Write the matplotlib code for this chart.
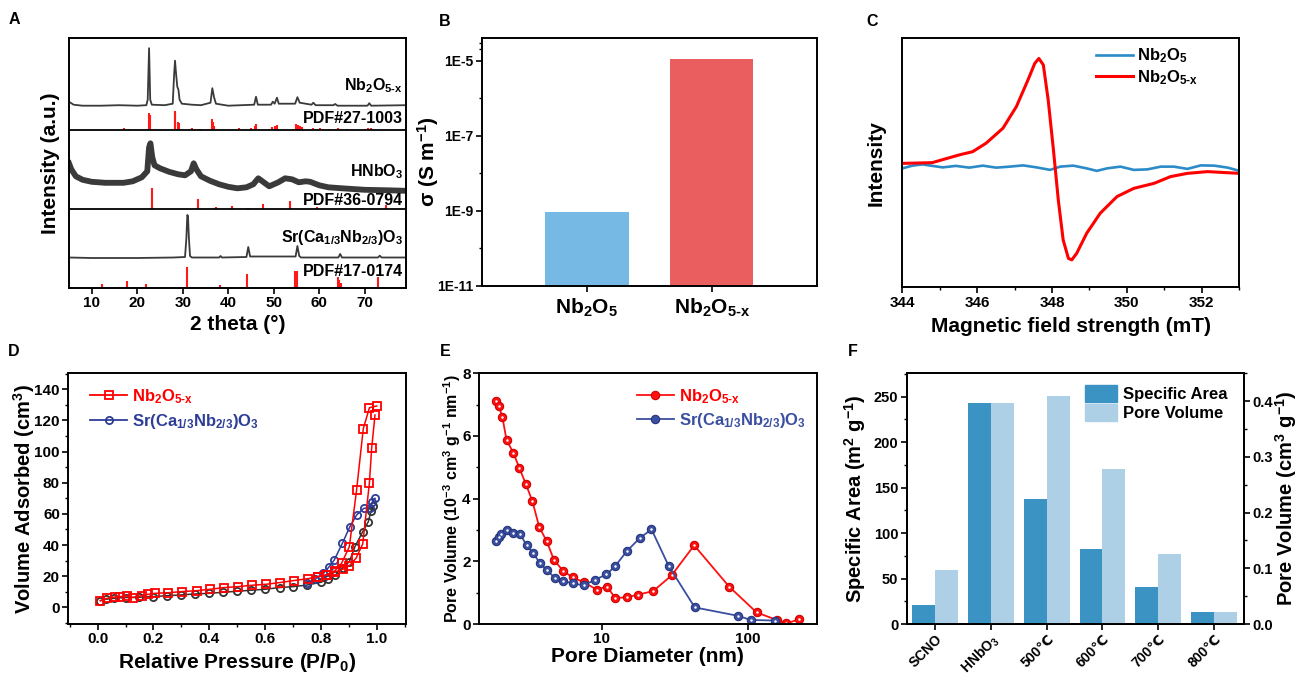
import numpy as np
import matplotlib
matplotlib.use("Agg")
import matplotlib.pyplot as plt
from matplotlib.ticker import MultipleLocator, FixedLocator, NullLocator
from matplotlib.patches import Patch
from matplotlib.lines import Line2D

plt.rcParams['font.family'] = ['Liberation Sans', 'DejaVu Sans']
plt.rcParams['font.weight'] = 'bold'
plt.rcParams['axes.labelweight'] = 'bold'
plt.rcParams['mathtext.fontset'] = 'custom'
plt.rcParams['mathtext.rm'] = 'Liberation Sans:bold'
plt.rcParams['mathtext.bf'] = 'Liberation Sans:bold'
plt.rcParams['mathtext.it'] = 'Liberation Sans:bold'
plt.rcParams['mathtext.default'] = 'bf'
plt.rcParams['axes.linewidth'] = 1.4
plt.rcParams['xtick.major.width'] = 1.2
plt.rcParams['ytick.major.width'] = 1.2
plt.rcParams['xtick.minor.width'] = 1.0
plt.rcParams['ytick.minor.width'] = 1.0
plt.rcParams['xtick.major.size'] = 4
plt.rcParams['ytick.major.size'] = 4
plt.rcParams['xtick.minor.size'] = 2.5
plt.rcParams['ytick.minor.size'] = 2.5

NB = "Nb$_2$O$_5$"
NBX = "Nb$_2$O$_{5\\text{-}x}$"
SCNO = "Sr(Ca$_{1/3}$Nb$_{2/3}$)O$_3$"

# ---------------- A: XRD ----------------
nbx_tt = [5, 6, 8, 12, 16, 20, 22.0, 22.3, 22.6, 22.85, 23.2, 26, 27.8, 28.1, 28.3, 28.55, 28.8,
          29.05, 29.3, 29.8, 32, 34, 36.1, 36.5, 36.9, 37.3, 40, 45.7, 46.1, 46.5, 49.4, 49.8, 50.2,
          50.7, 51.1, 54.7, 55.2, 55.7, 58.3, 58.7, 59.2, 63.1, 63.5, 64, 70.6, 71, 71.4, 79]
nbx_I = [28, 25, 24, 24, 24.5, 24, 24.5, 30, 81.5, 30, 25, 24.5, 26, 55, 69, 55, 43,
         40, 30, 26, 25, 24.5, 27, 41.5, 32, 26, 24, 25, 33, 25, 25, 28, 26,
         32, 26, 26, 32.5, 27, 25, 27, 24.5, 24.5, 25.7, 24, 24, 26.5, 24, 24.5]
pdf27_pos = [17, 18.1, 22.6, 22.75, 28.2, 28.4, 29.0, 29.2, 32.1, 33.7, 36.4, 36.6, 36.9, 42.4,
             44.9, 45.8, 46.2, 49.7, 50.3, 50.8, 55.0, 55.3, 55.7, 56.1, 58.6, 60.1, 62.2, 64.2,
             66.1, 70.8, 71.3]
pdf27_h = [1.3, 1, 17, 15, 19, 17, 8, 7, 1.3, 1, 10.5, 8, 4, 1.5,
           1.5, 4, 6, 3, 3.5, 5, 5.5, 5, 3.5, 2.5, 2, 1.5, 1, 2,
           1, 2, 1.5]

hnb_tt = [5, 5.5, 6.5, 8, 10, 13, 17, 19, 21, 22.2, 22.6, 22.9, 23.3, 23.8, 25, 27, 29, 30.5,
          31.8, 32.4, 33, 34, 36, 38, 40, 42, 44, 45.5, 46.6, 47.8, 49, 51, 52.5, 54, 55.5, 57,
          58, 60, 62, 65, 70, 75, 79]
hnb_I = [46, 40, 33, 29.5, 27.5, 26.5, 26.5, 28, 32, 38, 62, 66, 52, 44, 41, 37.5, 35, 34,
         38, 46, 40, 33, 28.5, 25, 22.5, 21, 22, 25, 31, 27, 23, 27, 31, 30, 27, 28,
         27.5, 24, 22, 21, 19.5, 19, 18.5]
pdf36_pos = [23.3, 33.4, 37.3, 40.9, 44.3, 47.6, 53.6, 59.5, 69.4, 74.6]
pdf36_h = [21, 10, 2, 3.3, 1.3, 5.3, 8.3, 2.7, 1.7, 4.3]

scno_tt = [5, 10, 20, 28, 30.5, 30.8, 31.0, 31.15, 31.35, 31.6, 32, 38, 38.3, 38.6, 44.0, 44.4,
           44.8, 54.8, 55.2, 55.6, 56, 64.2, 64.6, 65, 72.9, 73.3, 73.7, 79]
scno_I = [30.5, 30, 30, 30.5, 31, 50, 73, 72, 50, 32, 30.5, 30.5, 32, 30.5, 31, 41,
          31.5, 31.5, 42, 32, 30.5, 30.5, 34, 30.5, 30.5, 32.3, 30.5, 30.5]
pdf17_pos = [12.3, 17.8, 21.9, 25, 31.0, 33.5, 38.1, 40, 44.2, 54.6, 54.8, 55.0, 55.2, 64.1,
             64.4, 64.7, 73.0]
pdf17_h = [4, 7.5, 4, 1, 21.5, 0.7, 3, 0.7, 14.5, 17.5, 17.5, 17.5, 17.5, 11,
           8, 5, 11]

band_base = [158.3, 78.7, 0]

# ---------------- B: conductivity ----------------
cond_names = [NB, NBX]
cond_vals = [9.1e-10, 1.07e-5]

# ---------------- C: EPR ----------------
epr_red_B = [344.0, 344.8, 345.52, 345.88, 346.24, 346.69, 347.05, 347.36, 347.54, 347.65, 347.77,
             347.90, 348.04, 348.17, 348.30, 348.44, 348.53, 348.66, 348.93, 349.29, 349.74,
             350.19, 350.73, 351.17, 351.62, 352.16, 353.01]
epr_red_I = [49.7, 50.0, 53.1, 54.4, 57.8, 63.8, 72.5, 83.2, 89.8, 91.8, 89.2,
             75.1, 55.1, 35.0, 19.0, 11.6, 11.0, 13.6, 21.7, 29.7, 36.4,
             39.7, 41.7, 44.4, 45.7, 46.4, 45.7]
epr_blue_B = [344.0, 344.27, 344.54, 344.76, 345.08, 345.43, 345.79, 346.15, 346.51, 346.87,
              347.23, 347.59, 347.95, 348.22, 348.57, 348.93, 349.2, 349.47, 349.83, 350.19,
              350.55, 350.91, 351.26, 351.62, 351.98, 352.34, 352.7, 353.01]
epr_blue_I = [47.7, 48.8, 49.3, 48.8, 48.1, 48.7, 48.0, 48.8, 48.0, 48.4,
              48.9, 48.1, 47.1, 48.4, 48.8, 47.7, 46.7, 47.7, 48.4, 47.1,
              47.3, 48.4, 48.4, 47.5, 48.9, 48.8, 48.0, 46.7]

# ---------------- D: N2 isotherms ----------------
nbx_ads_p = [0.01, 0.035, 0.062, 0.08, 0.104, 0.128, 0.158, 0.182, 0.205, 0.253, 0.301, 0.355,
             0.403, 0.453, 0.503, 0.553, 0.603, 0.653, 0.703, 0.753, 0.79, 0.822, 0.852, 0.878,
             0.902, 0.926, 0.95, 0.974, 0.982, 0.994]
nbx_ads_v = [4.3, 5.8, 6.6, 6.9, 7.3, 6.3, 7.5, 8.4, 9.0, 9.4, 10.1, 10.7,
             11.6, 12.7, 13.3, 14.2, 14.8, 15.9, 17.2, 18.4, 19.7, 20.7, 22.9, 24.4,
             26.7, 31.5, 40.7, 80.0, 102.1, 123.5]
nbx_des_p = [1.0, 0.974, 0.952, 0.928, 0.902, 0.874, 0.85, 0.82, 0.79]
nbx_des_v = [129.3, 128.2, 114.7, 75.3, 38.9, 28.2, 23.5, 21.0, 19.8]
scno_ads_p = [0.01, 0.03, 0.06, 0.1, 0.15, 0.2, 0.25, 0.3, 0.35, 0.4, 0.45, 0.5, 0.55, 0.6,
              0.652, 0.7, 0.75, 0.8, 0.827, 0.852, 0.878, 0.902, 0.922, 0.95, 0.97, 0.98, 0.988]
scno_ads_v = [4.3, 5.2, 5.8, 6.3, 6.5, 6.9, 7.5, 8.0, 8.6, 9.0, 9.7, 10.3, 11.0, 11.6,
              12.7, 13.3, 14.3, 16.1, 18.0, 20.7, 25.4, 29.3, 38.9, 48.6, 55.0, 62.0, 65.0]
scno_des_p = [0.994, 0.985, 0.976, 0.954, 0.928, 0.904, 0.877, 0.848, 0.83, 0.809, 0.78, 0.75]
scno_des_v = [70.0, 67.8, 64.0, 63.6, 59.3, 51.8, 41.1, 30.4, 26.1, 21.8, 18.0, 15.5]

# ---------------- E: pore size distribution ----------------
psd_nbx_d = [1.904, 1.995, 2.11, 2.25, 2.50, 2.75, 3.05, 3.38, 3.76, 4.22, 4.73, 5.48, 6.34,
             7.58, 9.25, 10.9, 12.4, 14.8, 17.8, 22.5, 30.0, 42.8, 74.2, 114, 156, 182, 223]
psd_nbx_v = [7.11, 6.95, 6.59, 5.87, 5.47, 4.98, 4.46, 3.91, 3.09, 2.65, 2.05, 1.69, 1.49,
             1.33, 1.10, 1.19, 0.83, 0.85, 0.94, 1.05, 1.55, 2.51, 1.19, 0.37, 0.13, 0.02, 0.15]
psd_scno_d = [1.904, 1.995, 2.06, 2.25, 2.50, 2.78, 3.08, 3.42, 3.80, 4.26, 4.80, 5.48, 6.34,
              7.58, 8.99, 10.8, 12.4, 14.9, 18.2, 21.9, 28.7, 43.2, 85.3, 103.8, 152]
psd_scno_v = [2.65, 2.79, 2.86, 2.99, 2.91, 2.88, 2.51, 2.26, 1.94, 1.71, 1.47, 1.37, 1.30,
              1.23, 1.41, 1.58, 1.85, 2.33, 2.74, 3.02, 1.85, 0.53, 0.26, 0.13, 0.11]

# ---------------- F: BET summary ----------------
bet_samples = ["SCNO", "HNbO$_3$", "500℃", "600℃", "700℃", "800℃"]
spec_area = [21, 243.3, 137, 82.7, 41.1, 12.8]
pore_vol = [0.097, 0.397, 0.41, 0.278, 0.126, 0.021]

W, H = 1298, 678
fig = plt.figure(figsize=(W / 100, H / 100), dpi=100)


def add_box(l, t, r, b):
    ax = fig.add_axes([l / W, 1 - b / H, (r - l) / W, (b - t) / H])
    ax._px = (l, t, r, b)
    return ax


def ylab_at(ax, xpix, text, size=15, axis=None):
    l, t, r, b = ax._px
    target = axis if axis is not None else ax
    target.set_ylabel(text, fontsize=size, fontweight='bold')
    target.yaxis.set_label_coords((xpix - l) / (r - l), 0.5)
    target.yaxis.label.set_va('center')


def xlab_at(ax, ypix, text, size=15):
    l, t, r, b = ax._px
    ax.set_xlabel(text, fontsize=size, fontweight='bold')
    ax.xaxis.set_label_coords(0.5, -(ypix - b) / (b - t))
    ax.xaxis.label.set_va('center')


def tick_style(ax, size=10.5):
    ax.tick_params(which='both', direction='out', labelsize=size, pad=2)
    for lab in ax.get_xticklabels() + ax.get_yticklabels():
        lab.set_fontweight('bold')


def panel_letter(x, y, s):
    fig.text(x / W, 1 - y / H, s, fontsize=11.5, fontweight='bold', ha='center', va='center')


# A
axA = add_box(69, 38, 405.7, 288)
curve_col = '#3a3a3a'
axA.plot(nbx_tt, np.array(nbx_I) + band_base[0], color=curve_col, lw=1.3)
axA.plot(hnb_tt, np.array(hnb_I) + band_base[1], color=curve_col, lw=4.2, solid_joinstyle='round')
axA.plot(scno_tt, np.array(scno_I) + band_base[2], color=curve_col, lw=1.3)
for pos, h, base in [(pdf27_pos, pdf27_h, band_base[0]), (pdf36_pos, pdf36_h, band_base[1]),
                     (pdf17_pos, pdf17_h, band_base[2])]:
    axA.vlines(pos, base, base + np.array(h), color='#ff1a1a', lw=1.5)
for base in band_base[:2]:
    axA.axhline(base, color='k', lw=1.3)
axA.set_xlim(5, 79)
axA.set_ylim(0, 250)
axA.xaxis.set_major_locator(MultipleLocator(10))
axA.yaxis.set_major_locator(NullLocator())
tick_style(axA, 11)
for s, yv in [(NBX, 202), ("PDF#27-1003", 169.7), ("HNbO$_3$", 116.3), ("PDF#36-0794", 87.3),
              (SCNO, 50.7), ("PDF#17-0174", 16.3)]:
    axA.text(78.4, yv, s, ha='right', va='center', fontsize=11.5, fontweight='bold')
xlab_at(axA, 325, "2 theta (°)")
ylab_at(axA, 50, "Intensity (a.u.)")

# B
axB = add_box(482, 38, 816.7, 285.7)
axB.bar([1, 2], cond_vals, width=0.667, bottom=1e-11, color=['#76b9e5', '#ea5e5f'])
axB.set_yscale('log')
axB.set_ylim(1e-11, 4e-5)
axB.set_xlim(0.16, 2.84)
axB.yaxis.set_major_locator(FixedLocator([1e-11, 1e-9, 1e-7, 1e-5]))
axB.yaxis.set_minor_locator(FixedLocator([1e-10, 1e-8, 1e-6, 2e-5, 3e-5]))
axB.set_yticklabels(["1E-11", "1E-9", "1E-7", "1E-5"])
axB.set_xticks([1, 2])
axB.set_xticklabels(cond_names)
tick_style(axB, 10)
axB.tick_params(axis='x', labelsize=15, pad=4)
axB.tick_params(axis='y', which='minor', labelleft=False)
ylab_at(axB, 428, "σ (S m$^{-1}$)")

# C
axC = add_box(902.3, 38, 1239, 287.3)
axC.plot(epr_blue_B, epr_blue_I, color='#2b8bc8', lw=1.9, label=NB)
axC.plot(epr_red_B, epr_red_I, color='#ff0000', lw=2.2, label=NBX)
axC.set_xlim(344, 353)
axC.set_ylim(0, 100)
axC.xaxis.set_major_locator(MultipleLocator(2))
axC.xaxis.set_minor_locator(MultipleLocator(1))
axC.yaxis.set_major_locator(NullLocator())
tick_style(axC, 11)
leg = axC.legend(loc='upper left', bbox_to_anchor=(0.575, 0.965), frameon=False, fontsize=12,
                 handlelength=2.2, labelspacing=0.15, handletextpad=0.25, borderaxespad=0,
                 borderpad=0)
xlab_at(axC, 327, "Magnetic field strength (mT)")
ylab_at(axC, 876, "Intensity")

# D
axD = add_box(68.3, 373.3, 405.7, 624)
navy = '#2e3d98'
mk = dict(ms=5.2, mew=1.3, mfc='none')
axD.plot(scno_ads_p, scno_ads_v, '-o', color='#333333', lw=1.1, **mk)
axD.plot(scno_des_p, scno_des_v, '-o', color=navy, lw=1.1, **mk)
axD.plot(nbx_ads_p, nbx_ads_v, '-s', color='#ff0000', lw=1.1, **mk)
axD.plot(nbx_des_p, nbx_des_v, '-s', color='#ff0000', lw=1.1, **mk)
axD.set_xlim(-0.105, 1.104)
axD.set_ylim(-10.7, 150.3)
axD.xaxis.set_major_locator(MultipleLocator(0.2))
axD.xaxis.set_minor_locator(MultipleLocator(0.1))
axD.yaxis.set_major_locator(MultipleLocator(20))
axD.yaxis.set_minor_locator(MultipleLocator(10))
axD.xaxis.set_major_formatter(plt.FuncFormatter(lambda v, p: f"{v:.1f}"))
tick_style(axD, 11)
hD = [Line2D([], [], color='#ff0000', marker='s', lw=1.3, **mk),
      Line2D([], [], color=navy, marker='o', lw=1.3, **mk)]
legD = axD.legend(hD, [NBX, SCNO], loc='upper left', bbox_to_anchor=(0.065, 0.945), frameon=False,
                  fontsize=12, handlelength=2.2, labelspacing=0.35, handletextpad=0.3,
                  borderaxespad=0, borderpad=0)
for txt, c in zip(legD.get_texts(), ['#ff0000', navy]):
    txt.set_color(c)
xlab_at(axD, 663, "Relative Pressure (P/P$_0$)")
ylab_at(axD, 24, "Volume Adsorbed (cm$^3$)", size=14.5)

# E
axE = add_box(479, 373.3, 816.7, 624)
for d, v, c, ec in [(psd_nbx_d, psd_nbx_v, '#ff1010', '#d00000'),
                    (psd_scno_d, psd_scno_v, '#3b4fa0', '#26367d')]:
    axE.plot(d, v, '-o', color=c, lw=1.3, ms=6, mfc=c, mec=ec, mew=0.8)
    axE.plot(d, v, 'o', color='white', ms=1.8, mew=0)
axE.set_xscale('log')
axE.set_xlim(1.46, 293)
axE.set_ylim(0, 8)
axE.xaxis.set_major_locator(FixedLocator([10, 100]))
axE.xaxis.set_minor_locator(NullLocator())
axE.set_xticklabels(["10", "100"])
axE.yaxis.set_major_locator(MultipleLocator(2))
axE.yaxis.set_minor_locator(MultipleLocator(1))
tick_style(axE, 11)
hE = [Line2D([], [], color='#ff1010', marker='o', lw=1.3, ms=6, mec='#d00000', mew=0.8),
      Line2D([], [], color='#3b4fa0', marker='o', lw=1.3, ms=6, mec='#26367d', mew=0.8)]
legE = axE.legend(hE, [NBX, SCNO], loc='upper left', bbox_to_anchor=(0.468, 0.945), frameon=False,
                  fontsize=12, handlelength=2.2, labelspacing=0.3, handletextpad=0.3,
                  borderaxespad=0, borderpad=0)
for txt, c in zip(legE.get_texts(), ['#ff0000', '#3b4fa0']):
    txt.set_color(c)
xlab_at(axE, 657, "Pore Diameter (nm)")
ylab_at(axE, 452, "Pore Volume (10$^{-3}$ cm$^3$ g$^{-1}$ nm$^{-1}$)", size=11.5)

# F
axF = add_box(906.7, 373.3, 1244.3, 624)
axF2 = axF.twinx()
axF2._px = axF._px
xs = np.arange(len(bet_samples))
bw = 0.41
axF.bar(xs - bw / 2, spec_area, width=bw, color='#3a93c3', label="Specific Area")
axF2.bar(xs + bw / 2, pore_vol, width=bw, color='#aed0e6', label="Pore Volume")
axF.set_xlim(-0.507, 5.54)
axF.set_ylim(0, 275.8)
axF2.set_ylim(0, 0.45)
axF.yaxis.set_major_locator(MultipleLocator(50))
axF.yaxis.set_minor_locator(MultipleLocator(25))
axF2.yaxis.set_major_locator(MultipleLocator(0.1))
axF2.yaxis.set_minor_locator(MultipleLocator(0.05))
axF.set_xticks(xs)
axF.set_xticklabels(bet_samples, rotation=45, ha='right', rotation_mode='anchor')
tick_style(axF, 10.5)
tick_style(axF2, 10.5)
axF.tick_params(axis='x', labelsize=10, pad=1.5)
hF = [Patch(color='#3a93c3'), Patch(color='#aed0e6')]
axF.legend(hF, ["Specific Area", "Pore Volume"], loc='upper left', bbox_to_anchor=(0.528, 0.955),
           frameon=False, fontsize=12, handlelength=1.95, handleheight=1.2, labelspacing=0.15,
           handletextpad=0.35, borderaxespad=0, borderpad=0)
ylab_at(axF, 855, "Specific Area (m$^2$ g$^{-1}$)", size=14.5)
ylab_at(axF2, 1286, "Pore Volume (cm$^3$ g$^{-1}$)", size=14.5, axis=axF2)

for x, y, s in [(14, 20, "A"), (445, 22, "B"), (872, 22, "C"),
                (14, 352, "D"), (445, 352, "E"), (853, 352, "F")]:
    panel_letter(x, y, s)

fig.savefig("out.png", dpi=100)
